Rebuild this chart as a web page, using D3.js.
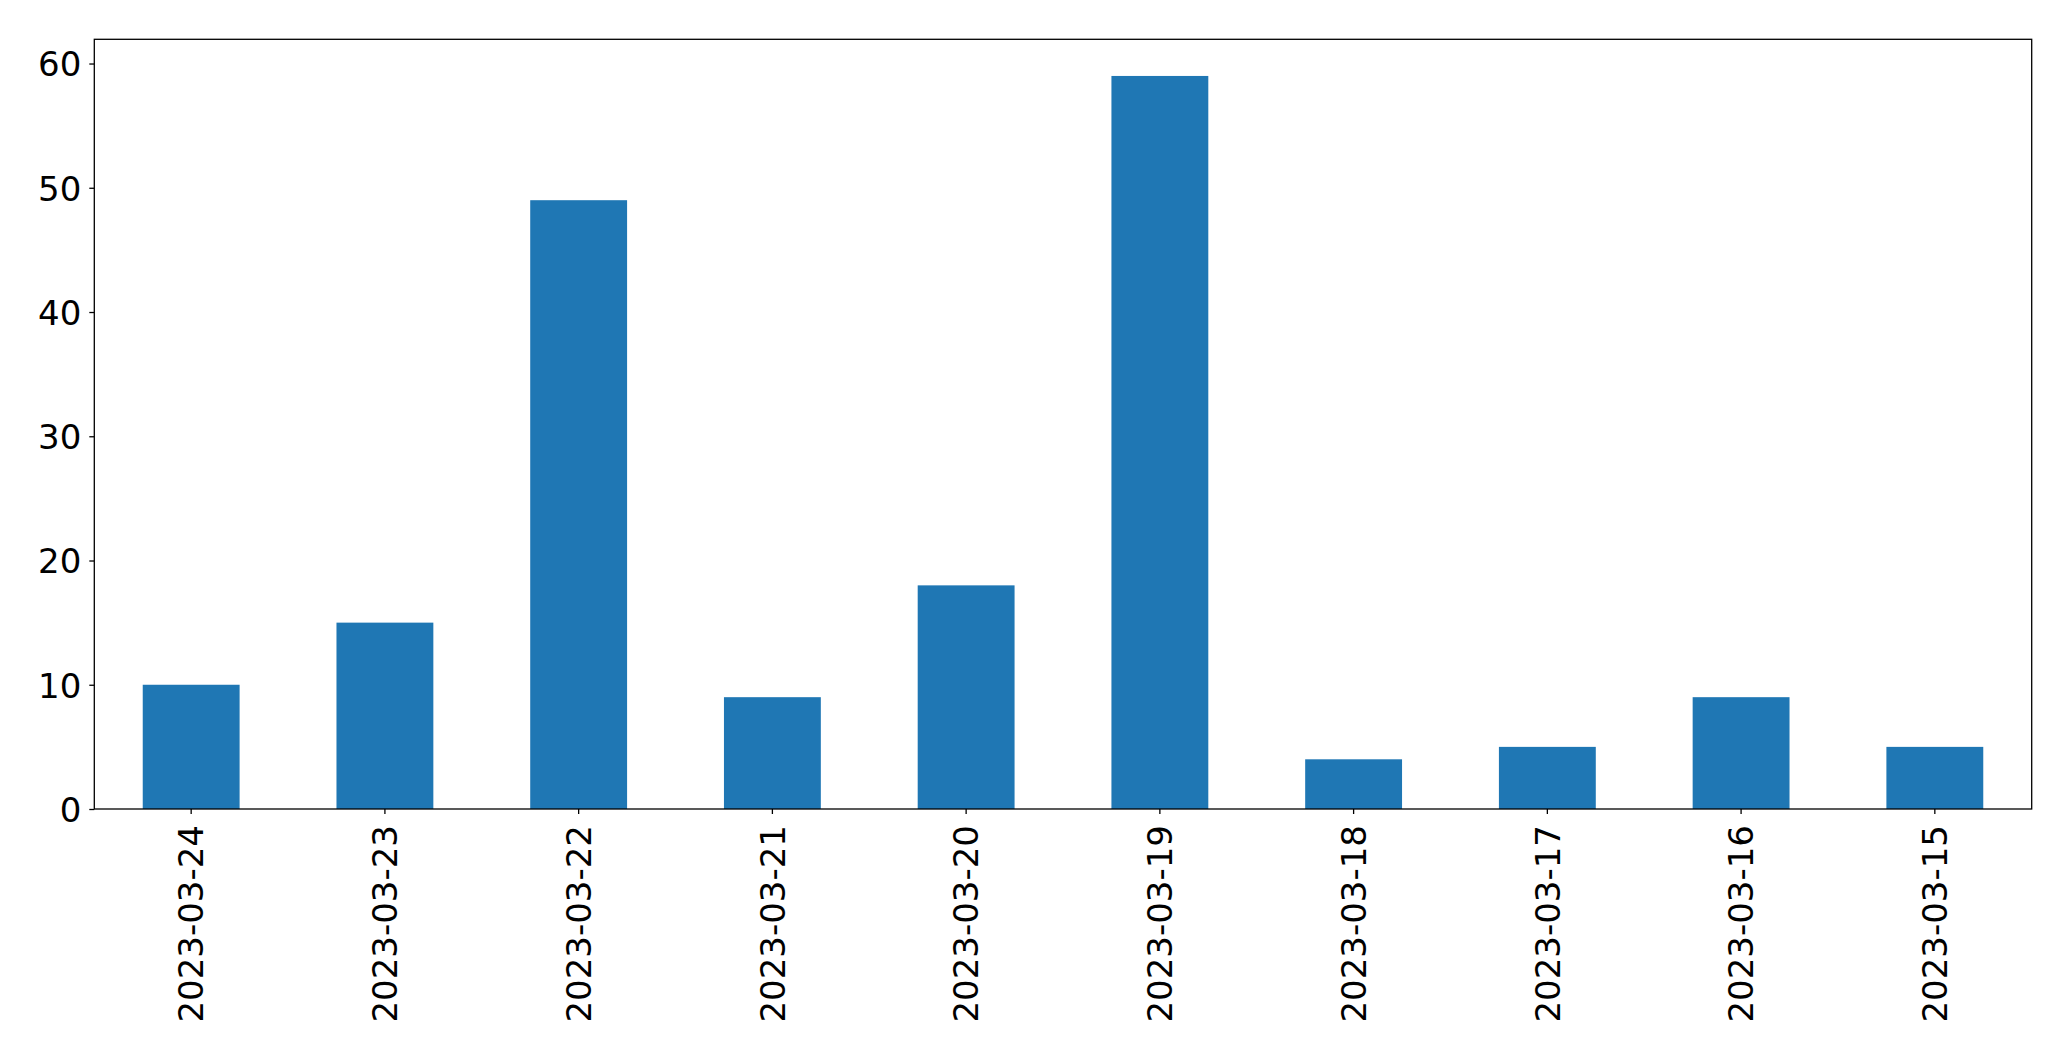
<!DOCTYPE html>
<html>
<head>
<meta charset="utf-8">
<script src="https://cdn.jsdelivr.net/npm/d3@7"></script>
<style>
html,body{margin:0;padding:0;background:#fff;}
svg{display:block;}
text{font-family:"DejaVu Sans",sans-serif;fill:#000;}
</style>
</head>
<body>
<svg id="chart" width="2071" height="1061"></svg>
<script>
const categories = ["2023-03-24","2023-03-23","2023-03-22","2023-03-21","2023-03-20","2023-03-19","2023-03-18","2023-03-17","2023-03-16","2023-03-15"];
const values = [10, 15, 49, 9, 18, 59, 4, 5, 9, 5];
const yTicks = [0, 10, 20, 30, 40, 50, 60];

const W = 2071, H = 1061;
const m = {left: 94.3, right: W - 2031.7, top: 39.3, bottom: H - 809};
const svg = d3.select("#chart");
const iw = W - m.left - m.right, ih = H - m.top - m.bottom;
const g = svg.append("g").attr("transform", `translate(${m.left},${m.top})`);

const x = d3.scaleBand().domain(categories).range([0, iw]).paddingInner(0.5).paddingOuter(0.25);
const yMax = d3.max(values) * 1.05;
const y = d3.scaleLinear().domain([0, yMax]).range([ih, 0]);

g.selectAll("rect.bar").data(values).join("rect")
  .attr("class", "bar")
  .attr("x", (d, i) => x(categories[i]))
  .attr("width", x.bandwidth())
  .attr("y", d => y(d))
  .attr("height", d => ih - y(d))
  .attr("fill", "#1f77b4");

const fs = "34px";
const yAxis = g.append("g").call(d3.axisLeft(y).tickValues(yTicks).tickSize(5).tickPadding(8).tickFormat(d3.format("d")));
yAxis.select(".domain").remove();
yAxis.selectAll("text").style("font-size", fs).attr("dy", "0.36em");
yAxis.selectAll("line").attr("stroke", "#000").attr("stroke-width", 1.3);

const xAxis = g.append("g").attr("transform", `translate(0,${ih})`)
  .call(d3.axisBottom(x).tickSize(5).tickPadding(0));
xAxis.select(".domain").remove();
xAxis.selectAll("line").attr("stroke", "#000").attr("stroke-width", 1.3);
xAxis.selectAll("text")
  .style("font-size", fs)
  .attr("text-anchor", "end")
  .attr("transform", "translate(0,16) rotate(-90)")
  .attr("x", 0).attr("y", 0).attr("dy", "0.36em");

g.append("rect").attr("x", 0).attr("y", 0).attr("width", iw).attr("height", ih)
  .attr("fill", "none").attr("stroke", "#000").attr("stroke-width", 1.3);
</script>
</body>
</html>
